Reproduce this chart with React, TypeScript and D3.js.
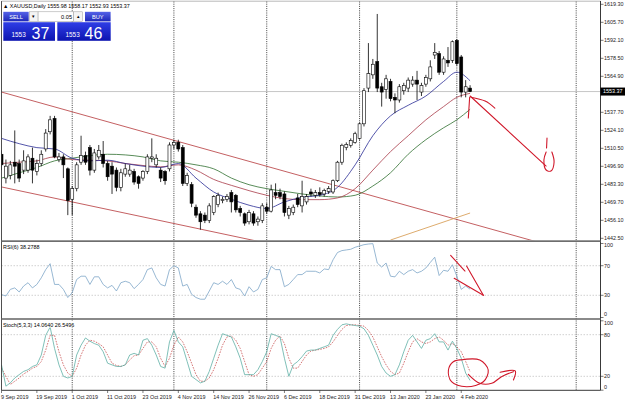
import React from "react";
import * as d3 from "d3";

// ---- data (daily bars, 9 Sep 2019 .. 6 Feb 2020) ----
const dateTicks = ["9 Sep 2019", "19 Sep 2019", "1 Oct 2019", "11 Oct 2019", "23 Oct 2019", "4 Nov 2019", "14 Nov 2019",
  "26 Nov 2019", "6 Dec 2019", "18 Dec 2019", "31 Dec 2019", "13 Jan 2020", "23 Jan 2020", "4 Feb 2020"];
const barsPerDateTick = 8;

const opens = [1506, 1488, 1490, 1500, 1499, 1494, 1494, 1503, 1493, 1499, 1510, 1523, 1533, 1502, 1504, 1495, 1472, 1480, 1500, 1505,
  1511, 1494, 1504, 1506, 1499, 1497, 1494, 1481, 1491, 1491, 1493, 1489, 1488, 1493, 1503, 1498, 1494, 1493, 1495, 1513,
  1515, 1511, 1484, 1483, 1466, 1461, 1460, 1456, 1462, 1468, 1471, 1472, 1477, 1475, 1465, 1461, 1455, 1461, 1455, 1456,
  1466, 1463, 1477, 1477, 1476, 1460, 1462, 1473, 1467, 1470, 1477.5, 1475, 1477, 1476, 1478, 1477.5, 1486, 1500, 1511, 1512.8,
  1515, 1518, 1529, 1556, 1566, 1576, 1557, 1555, 1561, 1549, 1547, 1554, 1556, 1559, 1562, 1553, 1559, 1563, 1581, 1582,
  1568, 1577, 1577, 1592, 1579.5, 1553, 1555.98];
const highs = [1509, 1502, 1501, 1524, 1502, 1509, 1506, 1511, 1502, 1509, 1525, 1535, 1535, 1507, 1506, 1496, 1482, 1500, 1520, 1508,
  1513, 1510, 1513, 1516, 1501, 1500, 1496, 1495, 1499, 1498, 1495, 1490, 1494, 1506, 1518, 1506, 1496, 1494, 1515, 1517,
  1517, 1513, 1492, 1485, 1468, 1463, 1462, 1469, 1475, 1477, 1474, 1476, 1479, 1476, 1467, 1462, 1464, 1463, 1459, 1469,
  1469, 1483, 1484, 1480, 1478, 1467, 1468, 1476, 1486, 1476, 1480, 1479, 1481, 1480, 1482, 1487, 1501, 1514, 1515, 1518,
  1523, 1530, 1556, 1590, 1578, 1612, 1560, 1566, 1563, 1552, 1559, 1560, 1564, 1565, 1569, 1560, 1566, 1577, 1590, 1584,
  1580, 1587, 1592, 1593, 1581, 1562, 1558.17];
const lows = [1494, 1484, 1487, 1484, 1485, 1491, 1492, 1484, 1490, 1497, 1508, 1521, 1503, 1500, 1488, 1460, 1460, 1478, 1498, 1498,
  1490, 1492, 1502, 1496, 1486, 1476, 1478, 1478, 1489, 1489, 1483, 1480, 1486, 1491, 1500, 1496, 1485, 1483, 1493, 1510,
  1508, 1482, 1482, 1466, 1458, 1449, 1454, 1454, 1460, 1466, 1469, 1470, 1462, 1462, 1459, 1452, 1453, 1452, 1452, 1454,
  1461, 1462, 1472, 1472, 1459, 1457, 1460, 1466, 1462, 1468, 1474, 1473, 1474, 1474, 1476, 1476, 1485, 1498, 1509, 1511,
  1514, 1517, 1527, 1553, 1563, 1553, 1542, 1548, 1546, 1537, 1545, 1551, 1553, 1557, 1547, 1550, 1557, 1561, 1578, 1566,
  1566, 1572, 1575, 1573, 1549, 1549, 1552.93];
const closes = [1498, 1497, 1498, 1497, 1488, 1501, 1504, 1494, 1499, 1506, 1522, 1532, 1504, 1504, 1498, 1471, 1480, 1498, 1505, 1500,
  1494, 1507, 1509, 1499, 1489, 1491, 1481, 1492, 1495, 1494, 1485, 1484, 1493, 1504, 1504, 1503, 1488, 1486, 1513, 1515,
  1510, 1484, 1490, 1469, 1460, 1455, 1456, 1467, 1474, 1475, 1472, 1474, 1470, 1464, 1462, 1454, 1462, 1454, 1457, 1467,
  1463, 1479, 1475, 1474, 1462, 1465, 1466, 1468, 1474, 1474, 1476, 1477, 1475.5, 1478.5, 1480, 1486, 1500, 1512.8, 1513.5, 1516.5,
  1521.5, 1529, 1554, 1567, 1574, 1556, 1553, 1563, 1548, 1547, 1557, 1558, 1562, 1562, 1559, 1558, 1564, 1572, 1583, 1568,
  1578, 1575, 1591, 1574.5, 1553, 1557, 1553.37];

// bar index of the first bar of each month (the last one sits in the empty future area)
const monthStarts = [16, 39, 60, 81, 103, 130];

// moving averages, read at sampled bars
const maBars = [0, 4, 8, 12, 16, 20, 24, 28, 32, 36, 40, 44, 48, 52, 56, 60, 64, 68, 72, 76, 80, 84, 88, 92, 96, 100, 103, 106];
const maFast = [1518, 1514, 1511, 1510, 1503, 1501, 1501.5, 1499, 1497, 1496, 1499, 1488, 1477.5, 1472, 1467.5, 1465, 1470, 1473.5,
  1475, 1481, 1498, 1520, 1535, 1543, 1550, 1561, 1568, 1561.5];
const maMid = [1499, 1500, 1501, 1504, 1502, 1501.5, 1501, 1499, 1497.5, 1496.5, 1498, 1494, 1487, 1482.5, 1478.5, 1475, 1472.5,
  1471.7, 1471.7, 1473, 1480, 1494, 1508, 1520, 1532, 1542, 1549, 1552];
const maSlow = [1488, 1492, 1496, 1501, 1503, 1505, 1506, 1505.5, 1504, 1501, 1500, 1498, 1495, 1488, 1483, 1480, 1478, 1476,
  1474.5, 1473.7, 1475, 1482, 1492, 1506, 1517, 1526, 1532, 1540];

const rsi6 = [31, 29, 38, 40, 34.5, 42.5, 47, 40, 44.7, 53.6, 64.7, 72.7, 44.7, 44.7, 38, 27, 33.6, 51.3, 55.8, 55.8,
  44.7, 55, 55, 44.7, 40, 43.4, 35.8, 47, 49, 47, 39, 44.7, 51.3, 64.7, 67, 53.6, 44.7, 42.5, 64.7, 70,
  67, 42.5, 44.7, 31.4, 27, 24.7, 24.7, 35.8, 47, 44.7, 49, 44.7, 51.3, 40, 38, 29, 41.6, 34.5, 38, 51.3,
  53.6, 69, 64.7, 64.7, 41.6, 44.7, 51.3, 58, 58, 62.5, 62.5, 62.5, 60.2, 65.6, 64.7, 78, 87.8, 90.4, 91.3, 92.2,
  94.9, 96.7, 98.4, 99.3, 99.8, 73.6, 68.2, 73.6, 55.8, 54.9, 62.5, 58, 62.5, 64.7, 60.2, 62.5, 66.9, 74.4, 81.5, 56.7,
  63.8, 62.5, 71.3, 55.8, 38, 42.5, 38.2788];
const stochMain = [36.5, 5.8, 10.6, 17.6, 22.4, 27.1, 29.5, 34.2, 36.5, 50.7, 79, 90.9, 60.2, 36.5, 20, 17.6, 20, 50.7, 64.9, 75.3,
  70.6, 67.2, 64.9, 55.4, 38.9, 36.5, 34.2, 34.2, 36.5, 50.7, 53.1, 50.7, 72, 74.3, 64.9, 50.7, 34.2, 31.8, 69.6, 86.1,
  69.6, 62.5, 41.3, 20, 15.3, 10.6, 12.9, 27.1, 46, 64.9, 81.4, 79, 76.7, 62.5, 46, 22.4, 22.4, 22.4, 29.5, 41.3,
  55.4, 81.4, 79, 76.7, 46, 20, 36.5, 41.3, 48.3, 56.4, 57.8, 57.8, 60.2, 62.5, 64.9, 79, 87.6, 94.2, 95.6, 94.2,
  93.2, 92.3, 88.5, 79, 64.9, 50.7, 34.2, 24.7, 20, 22.4, 36.5, 55.4, 72, 79, 69.6, 60.2, 72, 74.3, 81.4, 69.6,
  69.6, 57.8, 70.6, 60.2, 46, 24.7, 14.064];
const stochSignal = [31.8, 20, 8.2, 12.9, 17.6, 23.3, 27.1, 31.8, 34.2, 41.3, 57.8, 79, 79, 55.4, 36.5, 24.7, 20, 31.8, 50.7, 64.9,
  72, 70.6, 67.2, 62.5, 50.7, 38.9, 35.6, 34.2, 36.5, 43.6, 49.8, 50.7, 60.2, 69.6, 69.6, 62.5, 46, 34.2, 46, 64.9,
  76.7, 69.6, 55.4, 38.9, 22.4, 12.9, 12.9, 17.6, 29.5, 46, 64.9, 76.7, 78.1, 72, 60.2, 41.3, 22.4, 20, 22.4, 31.8,
  41.3, 60.2, 72, 78.1, 67.2, 46, 31.8, 31.8, 41.3, 50.7, 56.4, 57.8, 58.7, 60.2, 62.5, 69.6, 79, 87.6, 93.2, 94.2,
  94.2, 93.2, 92.3, 86.1, 76.7, 62.5, 48.3, 36.5, 27.1, 22.4, 24.7, 38.9, 55.4, 69.6, 74.3, 69.6, 67.2, 69.6, 74.3, 76.7,
  72, 64.9, 67.2, 62.5, 55.4, 41.3, 26.5496];

// 1551.30 sits under the bid label and is not shown
const priceTicks = [1619.3, 1605.7, 1592.1, 1578.5, 1564.9, 1537.7, 1524.1, 1510.5, 1496.9, 1483.3, 1469.7, 1456.1, 1442.5];
const rsiTicks = [100, 70, 30, 0];
const rsiLevels = [70, 30];
const stochTicks = [100, 80, 20, 0];
const stochLevels = [80, 20];
const bidPrice = 1553.37;
const askPrice = 1553.46;
const lotSize = "0.05";

// trend lines drawn on the chart: [bar, price]
const channelUpper: [number, number][] = [[0, 1553], [119.6, 1441.2]];
const channelLower: [number, number][] = [[0, 1481.3], [49, 1446.6]];
const tanLine: [number, number][] = [[88, 1441.2], [106, 1461.6]];

// hand drawn marks: [bar, value]
const handPrice: [number, number][][] = [
  [[106, 1550], [123.2, 1497.1]],
  [[105.9, 1549.1], [105.6, 1533.4]],
  [[106.2, 1549.1], [109.4, 1546.2], [111.6, 1540.9]],
  [[123.4, 1518.2], [123.3, 1510.7]],
  [[123.2, 1507.7], [122.7, 1501.7], [123.2, 1494.1], [124.3, 1493.4], [125, 1500.2], [124.5, 1507.7]],
];
const handRsi: [number, number][][] = [
  [[101.6, 84], [104.85, 62.8]],
  [[105.2, 69.6], [109, 30]],
  [[102.4, 53], [109, 30]],
];
const handStoch: [number, number][][] = [
  [[103.7, 43.5], [108.2, 43.5], [110.1, 29.1], [109, 12.2], [105.2, 5], [101.8, 12.2], [101.1, 29.1], [102.2, 41.1], [104.5, 44]],
  [[105.6, 22.9], [108.2, 9.9], [110.9, 9.9], [113.1, 19.5], [115.8, 26.7]],
  [[112.8, 25.8], [116.2, 27.7], [115.8, 14.7]],
];

// ---- scales ----
const W = 625, H = 402;
const left = 1.5, right = 600.5;
const x = d3.scaleLinear().domain([0, 135.5]).range([left, right]);
const yP = d3.scaleLinear().domain([1442.5, 1619.3]).range([238.3, 4.3]);
const yR = d3.scaleLinear().domain([0, 100]).range([317.5, 243.5]);
const yS = d3.scaleLinear().domain([0, 100]).range([390.2, 320.8]);
const pricePanel = [1.5, 240.3], rsiPanel = [242, 318.2], stochPanel = [319.8, 390.3];

const font = "'Liberation Sans', Arial, sans-serif";
const fs = 5.4;

function extend(pts: [number, number][]): [number, number][] {
  const [[i0, p0], [i1, p1]] = pts;
  const k = (p1 - p0) / (i1 - i0);
  const iEnd = x.domain()[1];
  return [[i0, p0], [iEnd, p0 + k * (iEnd - i0)]];
}

export default function App() {
  const maLine = d3.line<number>().x((_, k) => x(maBars[k])).y(d => yP(d)).curve(d3.curveMonotoneX);
  const rsiLine = d3.line<number>().x((_, i) => x(i)).y(d => yR(d));
  const stLine = d3.line<number>().x((_, i) => x(i)).y(d => yS(d));
  const segP = d3.line<[number, number]>().x(d => x(d[0])).y(d => yP(d[1]));
  const segPc = d3.line<[number, number]>().x(d => x(d[0])).y(d => yP(d[1])).curve(d3.curveCatmullRom);
  const segR = d3.line<[number, number]>().x(d => x(d[0])).y(d => yR(d[1]));
  const segS = d3.line<[number, number]>().x(d => x(d[0])).y(d => yS(d[1])).curve(d3.curveCatmullRom);
  const last = closes.length - 1;
  const bidY = yP(bidPrice);
  const hand = "#d0182a";

  return (
    <svg width={W} height={H} style={{ position: "absolute", left: 0, top: 0, background: "#fff" }}
      fontFamily={font} fontSize={fs}>
      <defs>
        <clipPath id="cp"><rect x={left} y={pricePanel[0]} width={right - left} height={pricePanel[1] - pricePanel[0]} /></clipPath>
        <clipPath id="cr"><rect x={left} y={rsiPanel[0]} width={right - left} height={rsiPanel[1] - rsiPanel[0]} /></clipPath>
        <clipPath id="cs"><rect x={left} y={stochPanel[0]} width={right - left} height={stochPanel[1] - stochPanel[0]} /></clipPath>
        <linearGradient id="btn" x1="0" y1="0" x2="0" y2="1">
          <stop offset="0" stopColor="#5563e8" /><stop offset="1" stopColor="#1d27b8" />
        </linearGradient>
        <linearGradient id="box" x1="0" y1="0" x2="0" y2="1">
          <stop offset="0" stopColor="#2f3ee6" /><stop offset="1" stopColor="#0c14b0" />
        </linearGradient>
      </defs>
      <rect width={W} height={H} fill="#fff" />

      {/* month separators */}
      {monthStarts.map(i => (
        <line key={i} x1={x(i)} x2={x(i)} y1={1.5} y2={390.3} stroke="#111" strokeWidth={0.8} strokeDasharray="1,1.2" />
      ))}

      {/* price panel */}
      <g clipPath="url(#cp)">
        <line x1={left} x2={right} y1={bidY} y2={bidY} stroke="#b8b8b8" strokeWidth={0.8} />
        <path d={segP(extend(channelUpper)) || ""} stroke="#b5373a" strokeWidth={0.8} fill="none" />
        <path d={segP(extend(channelLower)) || ""} stroke="#b5373a" strokeWidth={0.8} fill="none" />
        <path d={segP(tanLine) || ""} stroke="#d9a15c" strokeWidth={0.9} fill="none" />
        <path d={maLine(maSlow) || ""} stroke="#2f6e2f" strokeWidth={0.8} fill="none" />
        <path d={maLine(maMid) || ""} stroke="#a83a48" strokeWidth={0.8} fill="none" />
        <path d={maLine(maFast) || ""} stroke="#2a2c96" strokeWidth={0.8} fill="none" />
        {opens.map((o, i) => {
          const c = closes[i];
          const cx = x(i);
          const top = yP(Math.max(o, c));
          const bot = yP(Math.min(o, c));
          return (
            <g key={i}>
              <line x1={cx} x2={cx} y1={yP(highs[i])} y2={yP(lows[i])} stroke="#000" strokeWidth={0.8} />
              <rect x={cx - 1.5} y={top} width={3} height={Math.max(bot - top, 0.6)}
                fill={c >= o ? "#fff" : "#000"} stroke="#000" strokeWidth={0.6} />
            </g>
          );
        })}
        {handPrice.map((s, k) => (
          <path key={k} d={(k >= 2 ? segPc(s) : segP(s)) || ""} stroke={hand} strokeWidth={1.1} fill="none" strokeLinecap="round" />
        ))}
      </g>

      {/* RSI panel */}
      <g clipPath="url(#cr)">
        {rsiLevels.map(v => (
          <line key={v} x1={left} x2={right} y1={yR(v)} y2={yR(v)} stroke="#bdbdbd" strokeWidth={0.7} strokeDasharray="1.5,1.5" />
        ))}
        <path d={rsiLine(rsi6) || ""} stroke="#7ea6c8" strokeWidth={0.8} fill="none" />
        {handRsi.map((s, k) => (
          <path key={k} d={segR(s) || ""} stroke={hand} strokeWidth={1.1} fill="none" strokeLinecap="round" />
        ))}
      </g>

      {/* Stochastic panel */}
      <g clipPath="url(#cs)">
        {stochLevels.map(v => (
          <line key={v} x1={left} x2={right} y1={yS(v)} y2={yS(v)} stroke="#bdbdbd" strokeWidth={0.7} strokeDasharray="1.5,1.5" />
        ))}
        <path d={stLine(stochSignal) || ""} stroke="#c23b3b" strokeWidth={0.7} strokeDasharray="1.6,1.2" fill="none" />
        <path d={stLine(stochMain) || ""} stroke="#5fb0a6" strokeWidth={0.8} fill="none" />
        {handStoch.map((s, k) => (
          <path key={k} d={segS(s) || ""} stroke={hand} strokeWidth={1.1} fill="none" strokeLinecap="round" />
        ))}
      </g>

      {/* frame and panel separators */}
      <line x1={left} x2={left} y1={1} y2={390.3} stroke="#222" strokeWidth={0.8} />
      <line x1={left} x2={right} y1={1.2} y2={1.2} stroke="#888" strokeWidth={0.6} />
      <line x1={right} x2={right} y1={1} y2={390.3} stroke="#222" strokeWidth={0.9} />
      <line x1={left} x2={right} y1={390.3} y2={390.3} stroke="#222" strokeWidth={0.9} />
      <rect x={left} y={240.3} width={right - left} height={1.7} fill="#6e6e6e" />
      <rect x={left} y={318.2} width={right - left} height={1.6} fill="#6e6e6e" />

      {/* price axis */}
      {priceTicks.map(t => (
        <g key={t}>
          <line x1={right} x2={right + 3} y1={yP(t)} y2={yP(t)} stroke="#222" strokeWidth={0.6} />
          <text x={604} y={yP(t) + 1.9} fill="#222">{t.toFixed(2)}</text>
        </g>
      ))}
      <rect x={right} y={bidY - 4} width={W - right} height={8} fill="#000" />
      <text x={603} y={bidY + 1.9} fill="#fff">{bidPrice.toFixed(2)}</text>

      {/* indicator axes */}
      {rsiTicks.map(t => (
        <g key={"r" + t}>
          <line x1={right} x2={right + 3} y1={yR(t)} y2={yR(t)} stroke="#222" strokeWidth={0.6} />
          <text x={604} y={Math.min(Math.max(yR(t), rsiPanel[0] + 2.8), rsiPanel[1] - 4) + 1.9} fill="#222">{t}</text>
        </g>
      ))}
      {stochTicks.map(t => (
        <g key={"s" + t}>
          <line x1={right} x2={right + 3} y1={yS(t)} y2={yS(t)} stroke="#222" strokeWidth={0.6} />
          <text x={604} y={Math.min(Math.max(yS(t), stochPanel[0] + 3.5), stochPanel[1] - 3) + 1.9} fill="#222">{t}</text>
        </g>
      ))}

      {/* time axis */}
      {dateTicks.map((d, k) => {
        const tx = x(k * barsPerDateTick);
        return (
          <g key={d}>
            <line x1={tx} x2={tx} y1={390.3} y2={393} stroke="#222" strokeWidth={0.6} />
            <text x={tx - 0.5} y={398.5} fill="#222">{d}</text>
          </g>
        );
      })}

      {/* titles */}
      <text x={3} y={7.5} fill="#000">
        {`\u25B2 XAUUSD,Daily  ${opens[last].toFixed(2)} ${highs[last].toFixed(2)} ${lows[last].toFixed(2)} ${closes[last].toFixed(2)}`}
      </text>
      <text x={3} y={249} fill="#000">{`RSI(6) ${rsi6[last].toFixed(4)}`}</text>
      <rect x={2} y={321} width={78} height={6.5} fill="#fff" />
      <text x={3} y={326.5} fill="#000">{`Stoch(5,3,3) ${stochMain[last].toFixed(4)} ${stochSignal[last].toFixed(4)}`}</text>

      {/* one-click trading panel */}
      <g>
        <rect x={3.3} y={11.8} width={25.4} height={9.6} fill="url(#btn)" />
        <text x={16} y={18.6} fill="#fff" textAnchor="middle" fontSize={5.6}>SELL</text>
        <rect x={29.5} y={11.8} width={8.6} height={9.6} fill="#f4f4f4" stroke="#9a9a9a" strokeWidth={0.5} />
        <text x={33.8} y={18.4} textAnchor="middle" fontSize={5}>{"\u25BE"}</text>
        <rect x={38.1} y={11.8} width={35.5} height={9.6} fill="#fff" stroke="#9a9a9a" strokeWidth={0.5} />
        <text x={72} y={18.6} textAnchor="end" fontSize={5.6}>{lotSize}</text>
        <rect x={73.6} y={11.8} width={8.8} height={9.6} fill="#f4f4f4" stroke="#9a9a9a" strokeWidth={0.5} />
        <text x={78} y={18.4} textAnchor="middle" fontSize={5}>{"\u25B4"}</text>
        <rect x={85} y={11.8} width={25.6} height={9.6} fill="url(#btn)" />
        <text x={97.8} y={18.6} fill="#fff" textAnchor="middle" fontSize={5.6}>BUY</text>

        <rect x={3.3} y={22.2} width={51.7} height={18.6} fill="url(#box)" />
        <text x={11.5} y={37} fill="#fff" fontSize={6.4}>{Math.floor(bidPrice)}</text>
        <text x={31.5} y={38.6} fill="#fff" fontSize={16}>{Math.round((bidPrice % 1) * 100)}</text>
        <rect x={57.3} y={22.2} width={53.4} height={18.6} fill="url(#box)" />
        <text x={65.5} y={37} fill="#fff" fontSize={6.4}>{Math.floor(askPrice)}</text>
        <text x={84.5} y={38.6} fill="#fff" fontSize={16}>{Math.round((askPrice % 1) * 100)}</text>
      </g>
    </svg>
  );
}
